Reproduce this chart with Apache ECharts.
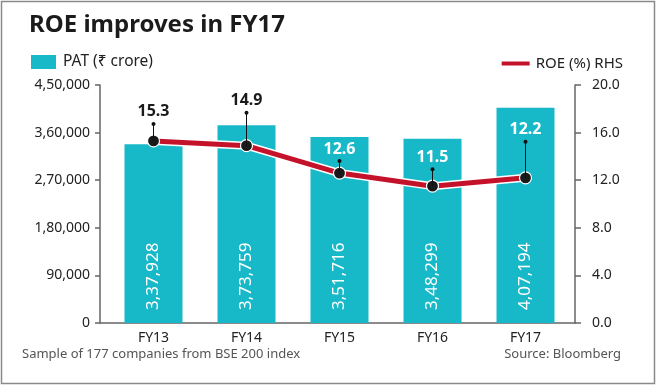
<!DOCTYPE html>
<html>
<head>
<meta charset="utf-8">
<script src="https://cdn.jsdelivr.net/npm/echarts@6/dist/echarts.min.js"></script>
<style>
html,body{margin:0;padding:0;background:#fff;}
#chart{width:660px;height:388px;}
</style>
</head>
<body>
<div id="chart"></div>
<script>
const categories = ['FY13', 'FY14', 'FY15', 'FY16', 'FY17'];
const patValues = [337928, 373759, 351716, 348299, 407194];
const roeValues = [15.3, 14.9, 12.6, 11.5, 12.2];
const leftTicks = [0, 90000, 180000, 270000, 360000, 450000];
const rightTicks = [0, 4, 8, 12, 16, 20];

function indianFormat(n) {
  const s = String(Math.round(n));
  if (s.length <= 3) return s;
  const last3 = s.slice(-3);
  let rest = s.slice(0, -3);
  const parts = [];
  while (rest.length > 2) { parts.unshift(rest.slice(-2)); rest = rest.slice(0, -2); }
  if (rest.length) parts.unshift(rest);
  return parts.join(',') + ',' + last3;
}

const FONT = '"Noto Sans", "DejaVu Sans", sans-serif';
const TEXT = '#222222';
const BAR = '#17b8c8';
const RED = '#c4122b';
const leaderLen = [17, 33, 12, 17, 36];

const chart = echarts.init(document.getElementById('chart'), null, {renderer: 'canvas'});
chart.setOption({
  animation: false,
  backgroundColor: '#ffffff',
  textStyle: {fontFamily: FONT},
  title: {
    text: 'ROE improves in FY17',
    left: 24, top: 8,
    textStyle: {fontFamily: FONT, fontSize: 24, fontWeight: 'bold', color: '#1b1b1b'}
  },
  legend: [
    {
      left: 26, top: 49,
      itemWidth: 25, itemHeight: 14, itemGap: 8,
      icon: 'rect',
      data: [{name: 'PAT (₹ crore)', itemStyle: {color: BAR}}],
      textStyle: {fontFamily: FONT, fontSize: 15.5, color: TEXT, padding: [0, 0, 0, 2]}
    },
    {
      right: 32, top: 51,
      itemWidth: 30, itemHeight: 6, itemGap: 6,
      icon: 'roundRect',
      data: [{name: 'ROE (%) RHS', itemStyle: {color: RED}}],
      textStyle: {fontFamily: FONT, fontSize: 15, color: TEXT}
    }
  ],
  graphic: [
    {type: 'rect', shape: {x: 1.5, y: 1.5, width: 653, height: 382}, style: {fill: 'none', stroke: '#8a8a8a', lineWidth: 1.5}, silent: true},
    {type: 'text', left: 22, top: 348, style: {text: 'Sample of 177 companies from BSE 200 index', font: '13px ' + FONT, fill: '#555555'}},
    {type: 'text', right: 39, top: 348, style: {text: 'Source: Bloomberg', font: '13px ' + FONT, fill: '#555555'}}
  ],
  grid: [
    {left: 107, right: 88, top: 85, bottom: 65},
    {left: 100, right: 85, top: 85, bottom: 65}
  ],
  xAxis: [
    {
      type: 'category', gridIndex: 0, data: categories,
      axisLine: {show: false}, axisTick: {show: false},
      axisLabel: {fontFamily: FONT, fontSize: 14, color: TEXT, margin: 8}
    },
    {
      type: 'category', gridIndex: 1, data: categories,
      axisLine: {show: true, lineStyle: {color: '#666666', width: 1.5}},
      axisTick: {show: false}, axisLabel: {show: false}
    }
  ],
  yAxis: [
    {
      type: 'value', gridIndex: 0, position: 'left', offset: 7,
      min: leftTicks[0], max: leftTicks[leftTicks.length - 1], interval: leftTicks[1] - leftTicks[0],
      axisLine: {show: true, lineStyle: {color: '#666666', width: 1.5}},
      axisTick: {show: true, length: 5, lineStyle: {color: '#666666', width: 1.5}},
      splitLine: {show: false},
      axisLabel: {fontFamily: FONT, fontSize: 14, color: TEXT, margin: 10, formatter: v => indianFormat(v)}
    },
    {
      type: 'value', gridIndex: 0, position: 'right', offset: 3,
      min: rightTicks[0], max: rightTicks[rightTicks.length - 1], interval: rightTicks[1] - rightTicks[0],
      axisLine: {show: true, lineStyle: {color: '#666666', width: 1.5}},
      axisTick: {show: true, length: 6, lineStyle: {color: '#666666', width: 1.5}},
      splitLine: {show: false},
      axisLabel: {fontFamily: FONT, fontSize: 14, color: TEXT, margin: 17, formatter: v => v.toFixed(1)}
    },
    {
      type: 'value', gridIndex: 1, show: false, min: 0, max: 1
    }
  ],
  series: [
    {
      name: 'PAT (₹ crore)', type: 'bar', xAxisIndex: 0, yAxisIndex: 0,
      data: patValues, barWidth: 58,
      itemStyle: {color: BAR},
      label: {
        show: true, position: 'insideBottom', rotate: 90, align: 'left', verticalAlign: 'middle',
        distance: 13, color: '#ffffff', fontFamily: FONT, fontSize: 17,
        formatter: p => indianFormat(p.value)
      }
    },
    {
      name: 'roe-outline', type: 'line', xAxisIndex: 0, yAxisIndex: 1,
      data: roeValues, symbol: 'none',
      lineStyle: {color: '#ffffff', width: 8}, z: 3
    },
    {
      name: 'ROE (%) RHS', type: 'line', xAxisIndex: 0, yAxisIndex: 1,
      data: roeValues, symbol: 'circle', symbolSize: 12,
      itemStyle: {color: '#1a1a1a', borderColor: '#ffffff', borderWidth: 1.2},
      lineStyle: {color: RED, width: 5}, z: 4
    },
    {
      name: 'roe-labels', type: 'custom', xAxisIndex: 0, yAxisIndex: 1, z: 5,
      data: roeValues.map((v, i) => [i, v]),
      renderItem: function (params, api) {
        const i = params.dataIndex;
        const p = api.coord([api.value(0), api.value(1)]);
        const L = leaderLen[i];
        const dark = i < 2;
        return {
          type: 'group',
          children: [
            {type: 'line', shape: {x1: p[0], y1: p[1], x2: p[0], y2: p[1] - L}, style: {stroke: '#111111', lineWidth: 1}},
            {type: 'circle', shape: {cx: p[0], cy: p[1] - L, r: 2}, style: {fill: '#111111'}},
            {type: 'text', style: {
              text: api.value(1).toFixed(1), x: p[0], y: p[1] - L - 12,
              textAlign: 'center', textVerticalAlign: 'middle',
              fill: dark ? '#1b1b1b' : '#ffffff', font: 'bold 16px ' + FONT
            }}
          ]
        };
      }
    }
  ]
});
</script>
</body>
</html>
